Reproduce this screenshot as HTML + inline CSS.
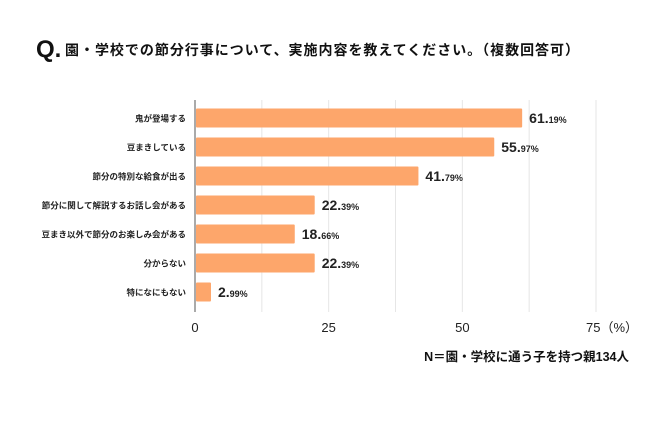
<!DOCTYPE html>
<html><head><meta charset="utf-8"><style>
body{margin:0;background:#fff;width:650px;height:427px;overflow:hidden;font-family:"Liberation Sans","Noto Sans CJK JP",sans-serif}
</style></head><body>
<svg width="650" height="427" xmlns="http://www.w3.org/2000/svg" font-family="Liberation Sans, Noto Sans CJK JP, sans-serif">
<text x="36" y="57" font-size="24" font-weight="bold" fill="#111">Q.</text>
<text x="65" y="55" font-size="14" font-weight="bold" fill="#111" textLength="514" lengthAdjust="spacing">園・学校での節分行事について、実施内容を教えてください。（複数回答可）</text>
<g id="grid"></g><g id="bars"></g>
<text x="629" y="361" text-anchor="end" font-size="12.5" font-weight="bold" fill="#111">N＝園・学校に通う子を持つ親134人</text>
</svg>
<script>
const categories=["鬼が登場する","豆まきしている","節分の特別な給食が出る","節分に関して解説するお話し会がある","豆まき以外で節分のお楽しみ会がある","分からない","特になにもない"];
const values=[61.19,55.97,41.79,22.39,18.66,22.39,2.99];
const ticks=[0,25,50,75];
const gridVals=[12.5,25,37.5,50,62.5,75];
const NS="http://www.w3.org/2000/svg";
const x=v=>195+v*(401/75);
const y=i=>118+i*29;
function mk(t,a,p){const e=document.createElementNS(NS,t);for(const k in a)e.setAttribute(k,a[k]);p.appendChild(e);return e;}
const g=document.getElementById('grid'),b=document.getElementById('bars');
gridVals.forEach(v=>{const l=mk('line',{x1:x(v),x2:x(v),y1:100,y2:312,stroke:'#e6e6e6','stroke-width':1},g);

});
const ax=mk('line',{x1:195,x2:195,y1:100,y2:312,stroke:'#555','stroke-width':1},g);


ticks.forEach(v=>{const t=mk('text',{x:x(v),y:332,'text-anchor':'middle','font-size':13,fill:'#222'},g);t.textContent=v===75?'75（%）':String(v);
if(v===75)t.setAttribute('x',x(v)+16);

});
categories.forEach((c,i)=>{
const r=mk('rect',{x:196,y:y(i)-9.5,width:x(values[i])-196,height:19,fill:'#fda66b',rx:1},b);


const l=mk('text',{x:186,y:y(i)+3.5,'text-anchor':'end','font-size':8.5,'font-weight':'bold',fill:'#222'},b);l.textContent=c;


const p=values[i].toFixed(2).split('.');
const v=mk('text',{x:x(values[i])+7,y:y(i)+5,'font-weight':'bold',fill:'#222'},b);
v.innerHTML='<tspan font-size="14">'+p[0]+'.</tspan><tspan font-size="9">'+p[1]+'%</tspan>';


});
</script>
</body></html>
